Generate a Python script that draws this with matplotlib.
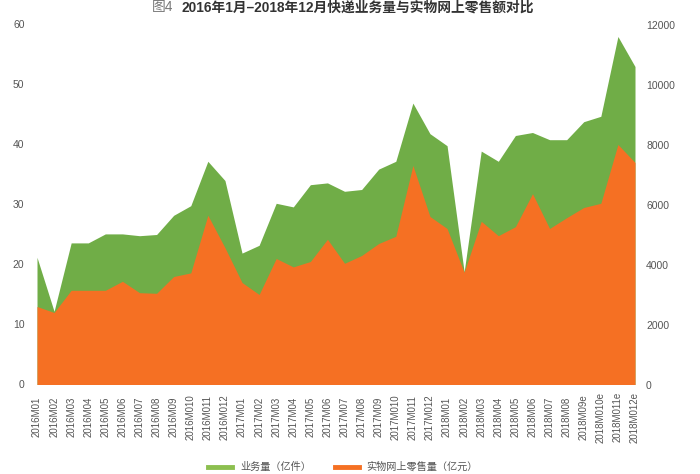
import matplotlib
matplotlib.use("Agg")
import matplotlib.pyplot as plt
from matplotlib.lines import Line2D

plt.rcParams['font.family'] = ['Liberation Sans', 'Noto Sans CJK SC', 'DejaVu Sans']

months = ["2016M01","2016M02","2016M03","2016M04","2016M05","2016M06","2016M07","2016M08","2016M09","2016M010","2016M011","2016M012",
          "2017M01","2017M02","2017M03","2017M04","2017M05","2017M06","2017M07","2017M08","2017M09","2017M010","2017M011","2017M012",
          "2018M01","2018M02","2018M03","2018M04","2018M05","2018M06","2018M07","2018M08","2018M09e","2018M010e","2018M011e","2018M012e"]
volume = [21.2,12.2,23.6,23.6,25.1,25.1,24.8,25.0,28.2,29.8,37.2,34.0,
          21.9,23.2,30.2,29.6,33.3,33.6,32.2,32.5,35.9,37.2,46.9,41.8,
          39.8,18.8,38.9,37.2,41.5,42.0,40.8,40.8,43.8,44.7,58.0,53.0]
sales = [2600,2400,3140,3140,3140,3440,3060,3040,3600,3720,5640,4560,
         3400,3000,4200,3920,4100,4840,4040,4300,4700,4940,7300,5600,
         5200,3740,5440,4960,5260,6360,5200,5560,5900,6040,8000,7400]
legend_labels = ["业务量（亿件）", "实物网上零售量（亿元）"]
title_prefix = "图4"
title_main = "2016年1月–2018年12月快递业务量与实物网上零售额对比"

GREEN, ORANGE = "#70AD47", "#F57023"
TXT = "#555555"

fig = plt.figure(figsize=(7, 4.74), dpi=100)
ax = fig.add_axes([37/700, 1-384.5/474, 598/700, 360/474])
ax.fill_between(range(len(months)), volume, 0, color=GREEN, lw=0)
ax.set_xlim(0, len(months)-1)
ax.set_ylim(0, 60)
ax.set_yticks(range(0, 61, 10))
ax.set_xticks(range(len(months)))
ax.set_xticklabels(months, rotation=90, fontsize=7, color=TXT, va='center')
ax.tick_params(axis='both', length=0, colors=TXT)
ax.tick_params(axis='x', pad=23.5)
ax.tick_params(axis='y', pad=9, labelsize=7.5)

ax2 = ax.twinx()
ax2.fill_between(range(len(months)), sales, 0, color=ORANGE, lw=0)
ax2.set_ylim(0, 12000)
ax2.set_yticks(range(0, 12001, 2000))
ax2.tick_params(axis='y', length=0, colors=TXT, labelsize=7.5, pad=8)
for a in (ax, ax2):
    for s in a.spines.values():
        s.set_visible(False)

fig.text(152/700, 1-7.5/474, title_prefix, fontsize=9.9, color="#777777", va='center', ha='left')
fig.text(181/700, 1-7.5/474, title_main, fontsize=9.9, color="#333333", fontweight='bold', va='center', ha='left')

fig.add_artist(Line2D([208/700, 232/700], [1-467/474]*2, color="#8CBF4F", lw=3.5))
fig.text(240/700, 1-467/474, legend_labels[0], fontsize=7.3, color=TXT, va='center')
fig.add_artist(Line2D([335/700, 359/700], [1-467/474]*2, color=ORANGE, lw=3.5))
fig.text(366/700, 1-467/474, legend_labels[1], fontsize=7.3, color=TXT, va='center')

fig.savefig("out.png", dpi=100)
